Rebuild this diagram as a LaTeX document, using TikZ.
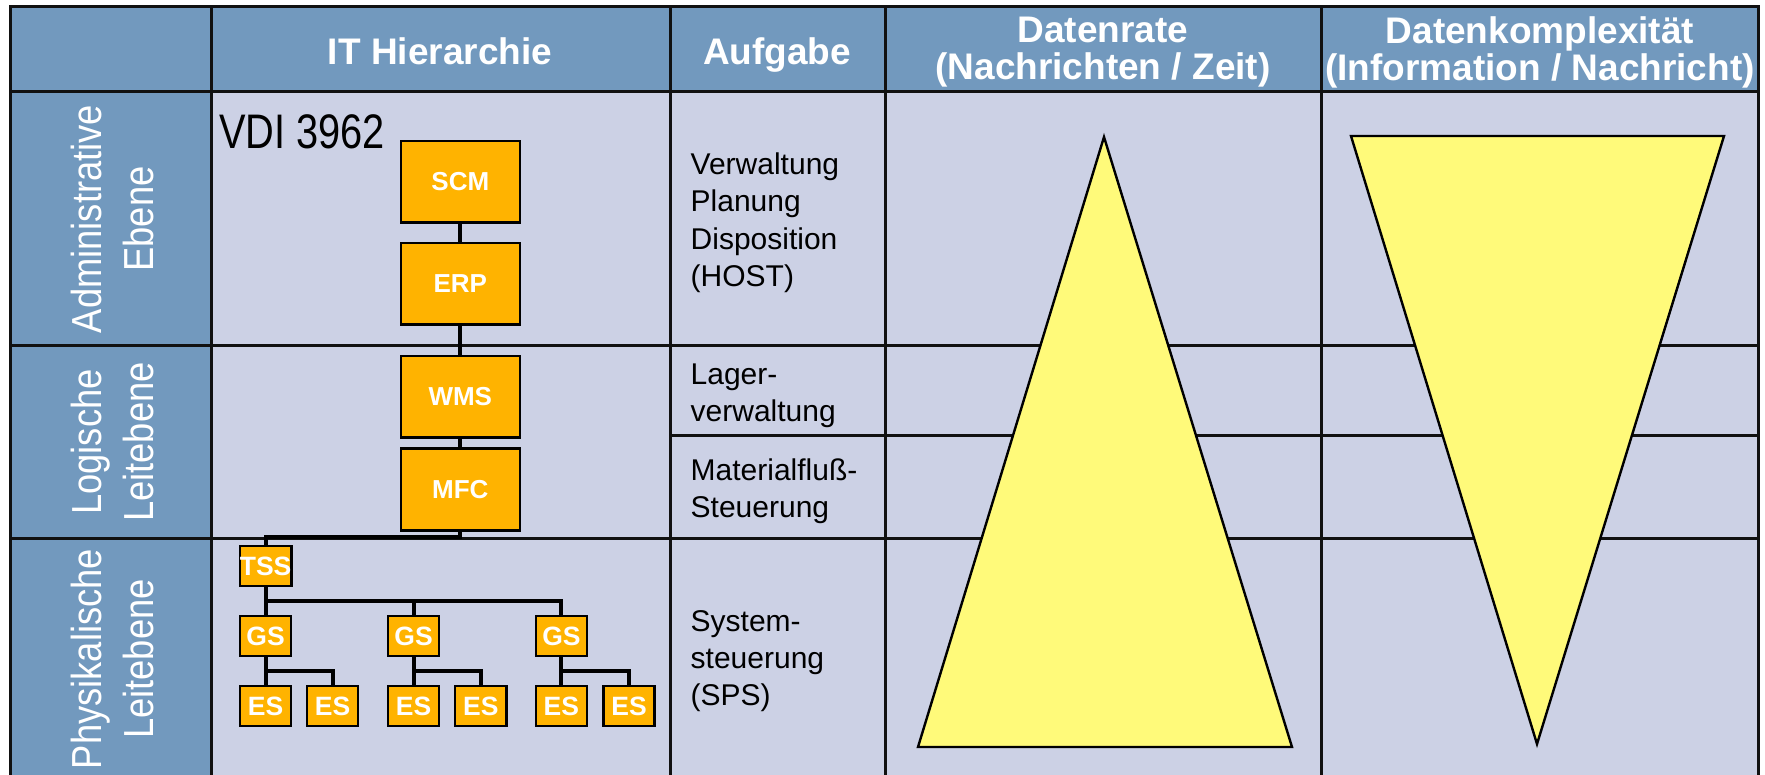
\documentclass[tikz,border=0pt]{standalone}
\usepackage{fontspec}
\setmainfont{Liberation Sans}
\newfontfamily\narrowlab[FakeStretch=0.865]{Liberation Sans}
\newfontfamily\narrowvdi[FakeStretch=0.82]{Liberation Sans}
\definecolor{hdrblue}{RGB}{114,153,190}
\definecolor{cellbg}{RGB}{204,209,229}
\definecolor{boxorange}{RGB}{255,179,0}
\definecolor{triyellow}{RGB}{255,250,122}
\definecolor{gridline}{RGB}{17,17,17}
\begin{document}
\begin{tikzpicture}[x=1pt,y=-1pt,
  grid/.style={draw=gridline,line width=3pt,line cap=rect},
  hdr/.style={text=white,font=\fontsize{37}{36.7}\selectfont\bfseries,inner sep=0pt,align=center},
  rotlabel/.style={text=white,font=\narrowlab\fontsize{42}{51.6}\selectfont,rotate=90,align=center,inner sep=0pt},
  task/.style={text=black,font=\fontsize{30}{37.2}\selectfont,align=left,inner sep=0pt,anchor=north west},
  bigbox/.style={draw=black,line width=2.5pt,fill=boxorange,minimum width=119pt,minimum height=81.5pt,inner sep=0pt,text=white,font=\fontsize{26}{26}\selectfont\bfseries},
  smallbox/.style={draw=black,line width=2.5pt,fill=boxorange,minimum width=51.2pt,minimum height=40.2pt,inner sep=0pt,text=white,font=\fontsize{26.5}{26.5}\selectfont\bfseries},
  conn/.style={draw=black,line width=4pt},
  tri/.style={draw=black,line width=2.4pt,fill=triyellow,line join=miter}
]
\useasboundingbox (0,0) rectangle (1765,775);
\clip (0,0) rectangle (1765,775);
% table backgrounds
\fill[cellbg] (10,7) rectangle (1758,780);
\fill[hdrblue] (10,7) rectangle (1758,92);
\fill[hdrblue] (10,92) rectangle (211,780);
% grid lines
\draw[grid] (10,7) -- (1758,7);
\draw[grid] (10,92) -- (1758,92);
\draw[grid] (10,346) -- (1758,346);
\draw[grid] (670,436) -- (1758,436);
\draw[grid] (10,538) -- (1758,538);
\foreach \x in {10,211,670,885,1321,1758} \draw[grid] (\x,7) -- (\x,780);
% triangles
\draw[tri] (1104,137) -- (1292,747) -- (918,747) -- cycle;
\draw[tri] (1351,136) -- (1724,136) -- (1537,744) -- cycle;
% headers
\node[hdr,anchor=base] (hIT) at (440,64.5) {IT Hierarchie};
\node[hdr,anchor=base] (hAuf) at (777,65) {Aufgabe};
\node[hdr,anchor=north] (hRate) at (1103,16.8) {Datenrate\\(Nachrichten / Zeit)};
\node[hdr,anchor=north] (hKomp) at (1540,16.8) {Datenkomplexität\\(Information / Nachricht)};
% row labels
\node[rotlabel] (lAdm) at (112.5,219) {Administrative\\Ebene};
\node[rotlabel] (lLog) at (112.5,442) {Logische\\Leitebene};
\node[rotlabel] (lPhy) at (112.5,659) {Physikalische\\Leitebene};
% VDI
\node[font=\narrowvdi\fontsize{48.5}{48.5}\selectfont,anchor=base west,inner sep=0pt] (vdi) at (219,148.3) {VDI 3962};
% tasks
\node[task] (t1) at (690.5,152.8) {Verwaltung\\Planung\\Disposition\\(HOST)};
\node[task] (t2) at (690.5,363.5) {Lager-\\verwaltung};
\node[task] (t3) at (690.5,458.2) {Materialfluß-\\Steuerung};
\node[task] (t4) at (690.5,610) {System-\\steuerung\\(SPS)};
% hierarchy boxes
\node[bigbox] (SCM) at (460.3,182) {SCM};
\node[bigbox] (ERP) at (460.3,284) {ERP};
\node[bigbox] (WMS) at (460.3,397) {WMS};
\node[bigbox] (MFC) at (460.3,489.5) {MFC};
\node[smallbox] (TSS) at (265.6,566) {TSS};
\node[smallbox] (GS1) at (265.6,636) {GS};
\node[smallbox] (GS2) at (413.6,636) {GS};
\node[smallbox] (GS3) at (561.4,636) {GS};
\node[smallbox] (ES1) at (265.6,706) {ES};
\node[smallbox] (ES2) at (332.6,706) {ES};
\node[smallbox] (ES3) at (413.6,706) {ES};
\node[smallbox] (ES4) at (480.8,706) {ES};
\node[smallbox] (ES5) at (561.4,706) {ES};
\node[smallbox] (ES6) at (629,706) {ES};
% connectors
\draw[conn] (SCM.south) -- (ERP.north);
\draw[conn] (ERP.south) -- (WMS.north);
\draw[conn] (WMS.south) -- (MFC.north);
\draw[conn] (MFC.south) -- ++(0,5) -| (TSS.north);
\draw[conn] (TSS.south) -- (GS1.north);
\draw[conn] (TSS.south) -- ++(0,13.5) -| (GS2.north);
\draw[conn] (TSS.south) -- ++(0,13.5) -| (GS3.north);
\draw[conn] (GS1.south) -- (ES1.north);
\draw[conn] (GS1.south) -- ++(0,13.5) -| (ES2.north);
\draw[conn] (GS2.south) -- (ES3.north);
\draw[conn] (GS2.south) -- ++(0,13.5) -| (ES4.north);
\draw[conn] (GS3.south) -- (ES5.north);
\draw[conn] (GS3.south) -- ++(0,13.5) -| (ES6.north);
\end{tikzpicture}
\end{document}
